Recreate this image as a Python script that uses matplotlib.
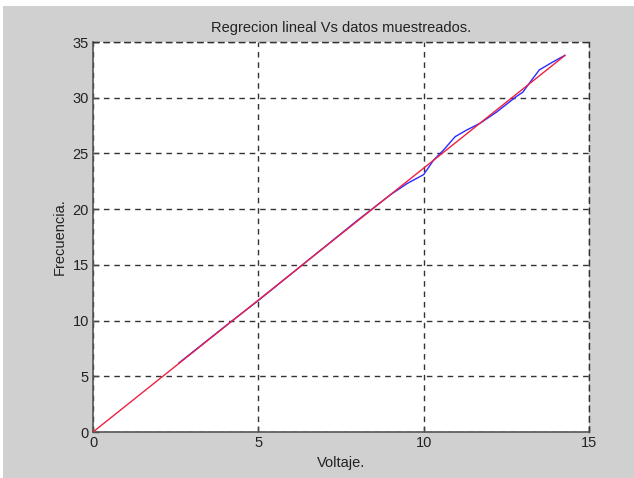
import numpy as np
import matplotlib
matplotlib.use("Agg")
import matplotlib.pyplot as plt
from matplotlib.patches import Rectangle

# measured samples: voltage (V) vs frequency
voltaje = [2.6, 4.0, 5.0, 6.0, 7.0, 8.0, 9.0, 9.5, 10.0, 10.3, 10.6,
           10.95, 11.3, 11.7, 12.2, 12.8, 13.0, 13.27, 13.5, 13.9, 14.27]
frecuencia = [6.2, 9.5, 11.8, 14.2, 16.6, 19.0, 21.3, 22.3, 23.1, 24.4, 25.3,
              26.5, 27.1, 27.7, 28.7, 30.1, 30.5, 31.6, 32.5, 33.2, 33.8]

# least squares line through the origin range
x_fit = [0.0, 14.27]
pendiente = 2.368
y_fit = [pendiente * v for v in x_fit]

xticks = [0, 5, 10, 15]
yticks = [0, 5, 10, 15, 20, 25, 30, 35]

plt.rcParams['font.family'] = ['Liberation Sans', 'DejaVu Sans']

fig = plt.figure(figsize=(6.34, 4.78), dpi=100, facecolor='#d0d0d0')
# thin white border strips along top and left edges
fig.patches.append(Rectangle((0, 1 - 6 / 478), 1, 6 / 478, transform=fig.transFigure,
                             facecolor='white', edgecolor='none', zorder=-1))
fig.patches.append(Rectangle((0, 0), 3 / 634, 1, transform=fig.transFigure,
                             facecolor='white', edgecolor='none', zorder=-1))

ax = fig.add_axes([93 / 634, 1 - 432 / 478, 496 / 634, 390 / 478])
ax.set_facecolor('white')

ax.plot(voltaje, frecuencia, color='#2a2aff', lw=1.0, zorder=3)
ax.plot(x_fit, y_fit, color='#ee2040', lw=1.0, zorder=4)

ax.set_xlim(0, 15)
ax.set_ylim(0, 35)
ax.set_xticks(xticks)
ax.set_yticks(yticks)
ax.tick_params(direction='in', length=4, width=1, color='#444444',
               labelsize=10.5, labelcolor='#222222', pad=3)

dash = (0, (4, 3.5))
ax.grid(True, color='#333333', linestyle=dash, lw=1.0)
for s in ['top', 'right']:
    ax.spines[s].set_color('#333333')
    ax.spines[s].set_linestyle(dash)
    ax.spines[s].set_linewidth(1.0)
for s in ['left', 'bottom']:
    ax.spines[s].set_color('#555555')
    ax.spines[s].set_linewidth(1.2)

ax.set_title('Regrecion lineal Vs datos muestreados.', fontsize=10.5,
             color='#222222', pad=7)
ax.set_xlabel('Voltaje.', fontsize=10.5, color='#222222', labelpad=4)
ax.set_ylabel('Frecuencia.', fontsize=10.5, color='#222222', labelpad=4)

fig.savefig('out.png', dpi=100, facecolor=fig.get_facecolor())
